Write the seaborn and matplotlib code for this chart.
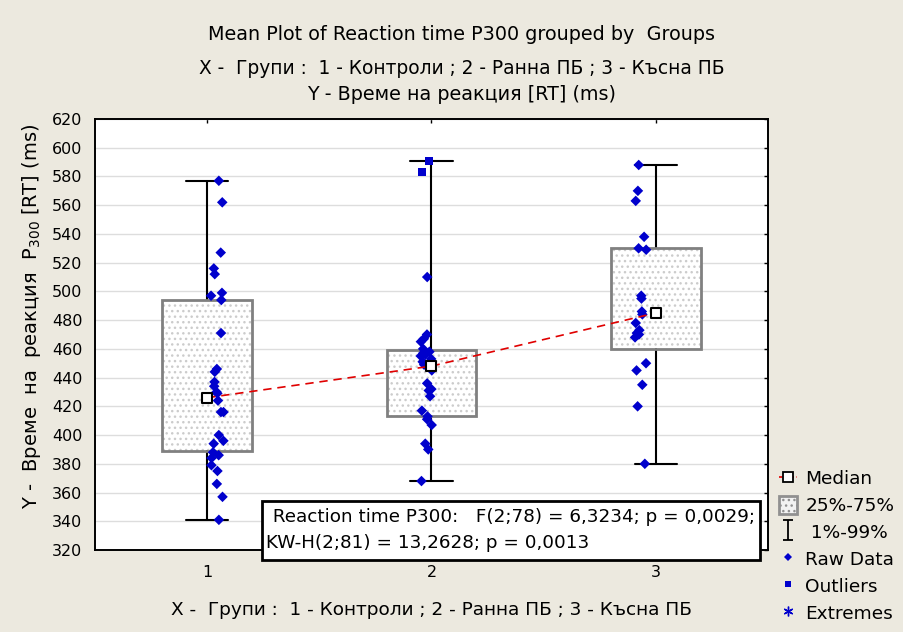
import numpy as np
import pandas as pd
import seaborn as sns
import matplotlib
matplotlib.use("Agg")
import matplotlib.pyplot as plt
from matplotlib.path import Path
from matplotlib.lines import Line2D
from matplotlib.patches import Rectangle, PathPatch, Patch

# ---------------- data ----------------
groups = [1, 2, 3]
group_labels = ["1", "2", "3"]

g1_raw = [577, 562, 527, 516, 512, 499, 497, 494, 471, 446, 444, 437, 434,
          430, 429, 424, 416, 416, 400, 396, 394, 388, 386, 384, 379, 375,
          366, 357, 341]
g2_raw = [510, 470, 467, 465, 460, 458, 457, 456, 455, 453, 451, 449, 445,
          436, 432, 431, 427, 417, 413, 411, 407, 394, 390, 368]
g2_outliers = [591, 583]
g3_raw = [588, 570, 563, 538, 530, 529, 497, 495, 486, 484, 478, 473, 471,
          470, 468, 450, 445, 435, 420, 380]

medians = [426, 448, 485]
q25 = [389, 413, 460]
q75 = [494, 459, 530]
p01 = [341, 368, 380]
p99 = [577, 591, 588]

yticks = list(range(320, 621, 20))

title_lines = ["Mean Plot of Reaction time P300 grouped by  Groups",
               "X -  Групи :  1 - Контроли ; 2 - Ранна ПБ ; 3 - Късна ПБ",
               "Y - Време на реакция [RT] (ms)"]
xlabel = "X -  Групи :  1 - Контроли ; 2 - Ранна ПБ ; 3 - Късна ПБ"
ylabel = "Y -  Време  на  реакция  P$_{300}$ [RT] (ms)"
stats_line1 = " Reaction time P300:   F(2;78) = 6,3234; p = 0,0029;"
stats_line2 = "KW-H(2;81) = 13,2628; p = 0,0013"

# ---------------- style ----------------
sns.set_theme(style="white")
plt.rcParams["font.family"] = ["DejaVu Sans"]
plt.rcParams["mathtext.fontset"] = "dejavusans"
plt.rcParams["hatch.linewidth"] = 1.0
plt.rcParams["text.color"] = "black"
plt.rcParams["axes.labelcolor"] = "black"
plt.rcParams["xtick.color"] = "black"
plt.rcParams["ytick.color"] = "black"

BG = "#ECE9DF"
BLUE = "#0000CC"
RED = "#E00000"

W, H = 904, 632
fig = plt.figure(figsize=(W / 100, H / 100), dpi=100, facecolor=BG)
ax = fig.add_axes([95 / W, 1 - 550 / H, (768 - 95) / W, (550 - 119) / H])
ax.set_facecolor("white")

# ---------------- boxes (25%-75%) and 1%-99% whiskers ----------------
stats = [dict(med=m, q1=a, q3=b, whislo=lo, whishi=hi, fliers=[])
         for m, a, b, lo, hi in zip(medians, q25, q75, p01, p99)]
bp = ax.bxp(stats, positions=groups, widths=0.4, capwidths=0.19,
            patch_artist=True, showfliers=False,
            boxprops=dict(facecolor="white", edgecolor="#cccccc",
                          linewidth=0, hatch="..."),
            whiskerprops=dict(color="black", linewidth=1.5),
            capprops=dict(color="black", linewidth=1.5),
            medianprops=dict(visible=False))
for b in bp["boxes"]:
    ax.add_patch(PathPatch(b.get_path(), transform=b.get_transform(),
                           fill=False, edgecolor="#808080", linewidth=2,
                           zorder=2.1))

# ---------------- raw data ----------------
rng = np.random.default_rng(7)
shift = {1: 0.045, 2: -0.02, 3: -0.07}
rows = []
for g, vals in zip(groups, [g1_raw, g2_raw, g3_raw]):
    for v in vals:
        rows.append(dict(group=g, value=v, kind="raw"))
for v in g2_outliers:
    rows.append(dict(group=2, value=v, kind="outlier"))
df = pd.DataFrame(rows)
df["xpos"] = df["group"] + df["group"].map(shift) + rng.uniform(-0.028, 0.028, len(df))

sns.scatterplot(data=df[df.kind == "raw"], x="xpos", y="value", ax=ax,
                marker="D", s=29, color=BLUE, edgecolor="none",
                linewidth=0, zorder=3, legend=False)
sns.scatterplot(data=df[df.kind == "outlier"], x="xpos", y="value", ax=ax,
                marker="s", s=32, color=BLUE, edgecolor="none",
                linewidth=0, zorder=3, legend=False)

# ---------------- medians ----------------
med_df = pd.DataFrame(dict(group=groups, median=medians))
sns.lineplot(data=med_df, x="group", y="median", ax=ax, color=RED,
             linewidth=1.2, linestyle=(0, (5, 3.5)), zorder=4, legend=False)
sns.scatterplot(data=med_df, x="group", y="median", ax=ax, marker="s",
                s=55, color="white", edgecolor="black", linewidth=1.5,
                zorder=5, legend=False)

# ---------------- axes ----------------
ax.set_xlim(0.5, 3.5)
ax.set_ylim(320, 620)
ax.set_xticks(groups)
ax.set_xticklabels(group_labels)
ax.set_yticks(yticks)
ax.set_xlabel("")
ax.set_ylabel("")
ax.yaxis.grid(True, color="#dddddd", linewidth=1)
ax.xaxis.grid(False)
ax.set_axisbelow(True)
for sp in ax.spines.values():
    sp.set_color("black")
    sp.set_linewidth(1.4)
ax.tick_params(axis="both", direction="in", length=3, width=1,
               top=True, right=True, colors="black", labelsize=11.5)
ax.tick_params(axis="y", pad=9)
ax.tick_params(axis="x", pad=11)

# ---------------- titles / labels ----------------
for txt, yp, fs in zip(title_lines, [35, 68, 94], [13.8, 13.4, 13.8]):
    fig.text(462 / W, 1 - yp / H, txt, ha="center", va="center", fontsize=fs)
fig.text(431 / W, 1 - 610 / H, xlabel, ha="center", va="center", fontsize=13.3)
fig.text(32 / W, 1 - 316 / H, ylabel, ha="center", va="center",
         rotation=90, fontsize=14)

# ---------------- stats box ----------------
rect = Rectangle((262 / W, 1 - 560 / H), (760 - 262) / W, (560 - 501) / H,
                 transform=fig.transFigure, facecolor="white",
                 edgecolor="black", linewidth=2, zorder=10)
fig.add_artist(rect)
fig.text(267 / W, 1 - 517 / H, stats_line1, ha="left", va="center",
         fontsize=13.2, zorder=11)
fig.text(266 / W, 1 - 543 / H, stats_line2, ha="left", va="center",
         fontsize=13.2, zorder=11)

# ---------------- legend ----------------
ibeam = Path([(-0.5, 1), (0.5, 1), (0, 1), (0, -1), (-0.5, -1), (0.5, -1)],
             [Path.MOVETO, Path.LINETO, Path.MOVETO, Path.LINETO,
              Path.MOVETO, Path.LINETO])
handles = [
    Line2D([0], [0], color=RED, linestyle=(0, (2, 1.5)), linewidth=1.2,
           marker="s", markerfacecolor="white", markeredgecolor="black",
           markersize=6.5, markeredgewidth=1.3),
    Patch(facecolor="#f2f2f2", edgecolor="#909090", hatch="...",
          linewidth=2),
    Line2D([0], [0], linestyle="none", marker=ibeam, markersize=14,
           markerfacecolor="none", markeredgecolor="black",
           markeredgewidth=1.3),
    Line2D([0], [0], linestyle="none", marker="D", markersize=4,
           color=BLUE, markeredgewidth=0),
    Line2D([0], [0], linestyle="none", marker="s", markersize=5,
           color=BLUE, markeredgewidth=0),
    Line2D([0], [0], linestyle="none", marker=(6, 2, 0), markersize=7,
           color=BLUE, markeredgecolor=BLUE, markeredgewidth=1),
]
labels = ["Median", "25%-75%", " 1%-99%", "Raw Data", "Outliers", "Extremes"]
fig.legend(handles, labels, loc="upper left",
           bbox_to_anchor=(779 / W, 1 - 469 / H), frameon=False,
           fontsize=13.3, handlelength=1.0, handleheight=1.1,
           handletextpad=0.42, labelspacing=0.42, borderaxespad=0,
           borderpad=0)

fig.savefig("out.png", dpi=100, facecolor=BG)
